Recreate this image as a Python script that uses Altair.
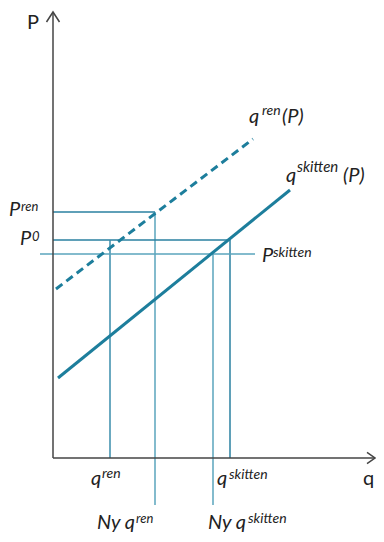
import altair as alt
import pandas as pd

# ---- model values (q = quantity units, P = price units) ----
q_ren = 5.7
q_ny_ren = 10.2
q_ny_skitten = 16.0
q_skitten = 17.7
P_ren = 24.6
P_0 = 21.8
P_skitten = 20.4
P_low = -4.7          # lower end of the "Ny" guide lines
q_pskitten_start = -1.3
q_pskitten_end = 20.2

ren_curve_q = [0.3, 20.0]
ren_curve_P = [16.9, 31.9]
skitten_curve_q = [0.5, 23.7]
skitten_curve_P = [8.0, 26.8]

q_axis_max = 32.2
P_axis_max = 44.6
q_domain = [-4.5, 32.3]
P_domain = [-7.6, 45.0]

W, H = 368, 526
FONT = "Lato"
TXT = "#222222"
AXC = "#444444"
LINE = "#1d7e9c"

xs = alt.Scale(domain=q_domain, nice=False, zero=False)
ys = alt.Scale(domain=P_domain, nice=False, zero=False)


def X(f="q"):
    return alt.X(f"{f}:Q", scale=xs, axis=None)


def Y(f="P"):
    return alt.Y(f"{f}:Q", scale=ys, axis=None)


# guide segments
guides = pd.DataFrame({
    "q":  [0, q_ny_ren, 0, q_ren, q_skitten, q_pskitten_start, q_ny_skitten],
    "P":  [P_ren, P_ren, P_0, P_0, P_0, P_skitten, P_skitten],
    "q2": [q_ny_ren, q_ny_ren, q_skitten, q_ren, q_skitten, q_pskitten_end, q_ny_skitten],
    "P2": [P_ren, P_low, P_0, 0, 0, P_skitten, P_low],
    "kind": ["dark", "light", "dark", "mid", "dark", "light", "light"],
})
guide_layer = alt.Chart(guides).mark_rule(strokeWidth=1.5).encode(
    x=X(), y=Y(), x2="q2:Q", y2="P2:Q",
    color=alt.Color("kind:N", legend=None,
                    scale=alt.Scale(domain=["dark", "mid", "light"],
                                    range=["#2a80a0", "#3a8cab", "#5aa5bd"])),
)

axes = pd.DataFrame({"q": [0, 0], "P": [0, 0], "q2": [0, q_axis_max], "P2": [P_axis_max, 0]})
axis_layer = alt.Chart(axes).mark_rule(strokeWidth=1.5, color=AXC).encode(
    x=X(), y=Y(), x2="q2:Q", y2="P2:Q")

arrow_up = alt.Chart(pd.DataFrame({"q": [0], "P": [P_axis_max]})).mark_point(
    shape="M-0.65,1 L0,0 L0.65,1", size=400, filled=False, stroke=AXC, strokeWidth=1.5, opacity=1
).encode(x=X(), y=Y())
arrow_right = alt.Chart(pd.DataFrame({"q": [q_axis_max], "P": [0]})).mark_point(
    shape="M-1,-0.7 L0,0 L-1,0.7", size=256, filled=False, stroke=AXC, strokeWidth=1.5, opacity=1
).encode(x=X(), y=Y())

ren_curve = alt.Chart(pd.DataFrame({"q": ren_curve_q, "P": ren_curve_P})).mark_line(
    color=LINE, strokeWidth=3, strokeDash=[8, 5]).encode(x=X(), y=Y())
skitten_curve = alt.Chart(pd.DataFrame({"q": skitten_curve_q, "P": skitten_curve_P})).mark_line(
    color=LINE, strokeWidth=3).encode(x=X(), y=Y())


def txt(s, q, P, dx, dy, size=20, style="italic"):
    return alt.Chart(pd.DataFrame({"q": [q], "P": [P], "t": [s]})).mark_text(
        align="left", baseline="alphabetic", dx=dx, dy=dy, fontSize=size,
        font=FONT, fontStyle=style, color=TXT
    ).encode(x=X(), y=Y(), text="t:N")


texts = [
    txt("P", 0, P_axis_max, -26, 17, 20, "normal"),
    txt("q", q_axis_max, 0, -12, 27, 20, "normal"),
    # q^ren(P)
    txt("q", ren_curve_q[1], ren_curve_P[1], -4, -16),
    txt("ren", ren_curve_q[1], ren_curve_P[1], 9, -24, 14),
    txt("(P)", ren_curve_q[1], ren_curve_P[1], 29, -16),
    # q^skitten(P)
    txt("q", skitten_curve_q[1], skitten_curve_P[1], -4, -8),
    txt("skitten", skitten_curve_q[1], skitten_curve_P[1], 7, -18, 15),
    txt("(P)", skitten_curve_q[1], skitten_curve_P[1], 53, -8),
    # P^ren, P^0
    txt("P", 0, P_ren, -44, 4),
    txt("ren", 0, P_ren, -32, -1, 13),
    txt("P", 0, P_0, -33, 5),
    txt("0", 0, P_0, -21, 1, 13),
    # P^skitten
    txt("P", q_pskitten_end, P_skitten, 7, 8),
    txt("skitten", q_pskitten_end, P_skitten, 18, 3, 14),
    # q^ren, q^skitten under axis
    txt("q", q_ren, 0, -19, 27),
    txt("ren", q_ren, 0, -8, 20, 14),
    txt("q", q_skitten, 0, -13, 27),
    txt("skitten", q_skitten, 0, -1, 21, 14),
    # Ny q^ren, Ny q^skitten
    txt("Ny q", q_ny_ren, P_low, -58, 24),
    txt("ren", q_ny_ren, P_low, -19, 18, 13),
    txt("Ny q", q_ny_skitten, P_low, -5, 24),
    txt("skitten", q_ny_skitten, P_low, 35, 18, 14),
]

chart = alt.layer(
    guide_layer, axis_layer, arrow_up, arrow_right, ren_curve, skitten_curve, *texts
).properties(
    width=W, height=H, padding=0, autosize=alt.AutoSizeParams(type="none"),
    background="white",
).configure_view(stroke=None)

chart.save("out.html", embed_options={"renderer": "svg", "actions": False})
